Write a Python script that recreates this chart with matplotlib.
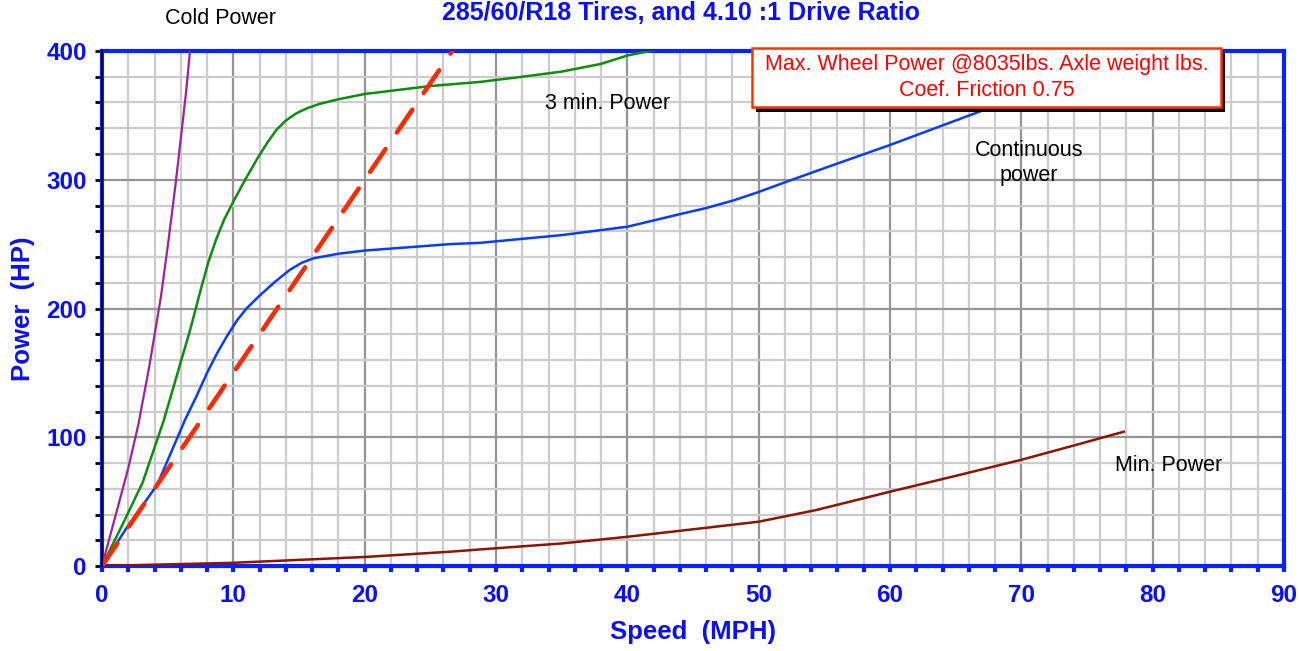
import numpy as np
import matplotlib
matplotlib.use('Agg')
import matplotlib.pyplot as plt
from matplotlib.ticker import MultipleLocator
import matplotlib.patheffects as pe

plt.rcParams['font.family'] = ['Liberation Sans', 'DejaVu Sans']

#################################
# values
#################################
cold_speed = [0, 1.0, 2.0, 2.77, 3.6, 4.5, 5.0, 5.56, 6.0, 6.4, 6.7]
cold_power = [0, 38, 76, 110, 155, 210, 248, 293, 332, 368, 400]

three_speed = [0, 1.6, 3.1, 4.7, 5.7, 6.7, 7.5, 8.1, 8.7, 9.3, 10, 10.9, 11.8, 12.6,
               13.3, 14.0, 14.8, 15.6, 16.6, 18, 20, 25, 28.8, 32, 35, 38, 40, 42.2]
three_power = [0, 33, 65, 113, 148, 183, 214, 236, 254, 269, 283, 300, 316, 329,
               339, 346, 351.6, 355.5, 359, 362.5, 366.6, 372.8, 376, 380, 384, 390, 396.5, 401]

cont_speed = [0, 1.9, 4.2, 6.3, 7.2, 8.0, 8.8, 9.6, 10.3, 11.0, 12.0, 13.2, 14.3, 15.2,
              16.1, 18, 20, 26.5, 28.8, 35, 40, 44.3, 46, 48.1, 50, 52, 55, 60, 67.1, 72]
cont_power = [0, 30, 63, 113, 132, 150, 166, 180, 191, 200, 210, 221, 230, 235.5,
              239, 242.5, 245, 250, 251, 257, 263.5, 274, 278, 284, 290.5, 298, 309, 327, 354, 373]

min_speed = [0, 10, 20, 26.5, 29.9, 35, 40.1, 45, 50, 54.4, 60, 65, 70, 73.5, 77.8]
min_power = [0, 2.5, 7, 11.1, 13.7, 17.5, 22.8, 28.5, 34.4, 43.5, 57.7, 70, 82.5, 92.2, 104.3]

# max wheel power (traction limit), straight line
max_speed = [0, 26.8]
max_power = [0, 402]

x_ticks = list(range(0, 91, 10))
y_ticks = list(range(0, 401, 100))

blue = '#0a22ff'
txt_blue = '#0a10f0'

fig = plt.figure(figsize=(12.99, 6.51), dpi=100)
ax = fig.add_axes([102/1299, 1-566/651, 1182/1299, 515/651])

ax.set_xlim(0, 90)
ax.set_ylim(0, 400)
ax.set_xticks(x_ticks)
ax.set_yticks(y_ticks)
ax.xaxis.set_minor_locator(MultipleLocator(2))
ax.yaxis.set_minor_locator(MultipleLocator(20))

ax.grid(which='minor', color='#cccccc', lw=1.6, zorder=0)
ax.grid(which='major', color='#959595', lw=1.6, zorder=0)
ax.set_axisbelow(True)

ax.plot(min_speed, min_power, color='#8b1500', lw=1.8, zorder=3)
ax.plot(cold_speed, cold_power, color='#9b239b', lw=1.6, zorder=3)
ax.plot(three_speed, three_power, color='#0e8c0e', lw=1.8, zorder=3)
ax.plot(cont_speed, cont_power, color='#0a3cff', lw=1.8, zorder=3)
ax.plot(max_speed, max_power, color='#ff2a00', lw=3.3, dashes=(6.0, 4.4),
        dash_capstyle='round', zorder=4)

for s in ['top', 'right', 'bottom', 'left']:
    ax.spines[s].set_color(blue)
    ax.spines[s].set_linewidth(3)
ax.axvline(0, color='black', lw=1.3, zorder=6, clip_on=False)

ax.tick_params(axis='x', which='both', direction='out', color=blue, width=3,
               length=4, pad=9, labelsize=17.5, labelcolor=txt_blue)
ax.tick_params(axis='y', which='both', direction='out', color='black', width=2,
               length=5, pad=6, labelsize=17.5, labelcolor=txt_blue)
for lab in ax.get_xticklabels() + ax.get_yticklabels():
    lab.set_fontweight('bold')

ax.set_xlabel('Speed  (MPH)', fontsize=18.5, fontweight='bold', color=txt_blue, labelpad=9)
ax.set_ylabel('Power  (HP)', fontsize=18.5, fontweight='bold', color=txt_blue, labelpad=8)

fig.text(0.524, 1-1/651, '285/60/R18 Tires, and 4.10 :1 Drive Ratio', ha='center',
         va='top', fontsize=18, fontweight='bold', color=txt_blue)

lab_kw = dict(fontsize=15.5, color='black', ha='center', va='center')
ax.text(9.06, 425.6, 'Cold Power', clip_on=False, **lab_kw)
ax.text(38.5, 359.6, '3 min. Power', **lab_kw)
ax.text(70.6, 313, 'Continuous\npower', linespacing=1.3, **lab_kw)
ax.text(81.2, 77.7, 'Min. Power', **lab_kw)

box = ax.text(67.35, 379.4, ' Max. Wheel Power @8035lbs. Axle weight lbs. \nCoef. Friction 0.75',
              fontsize=15.5, color='#ff0000', ha='center', va='center', linespacing=1.3,
              multialignment='center', zorder=10, clip_on=False,
              bbox=dict(boxstyle='square,pad=0.3', fc='white', ec='#ff3300', lw=1.8))
box.get_bbox_patch().set_path_effects([
    pe.SimplePatchShadow(offset=(3, -3), shadow_rgbFace='black', alpha=1.0),
    pe.Normal()])

fig.savefig('out.png', dpi=100)
